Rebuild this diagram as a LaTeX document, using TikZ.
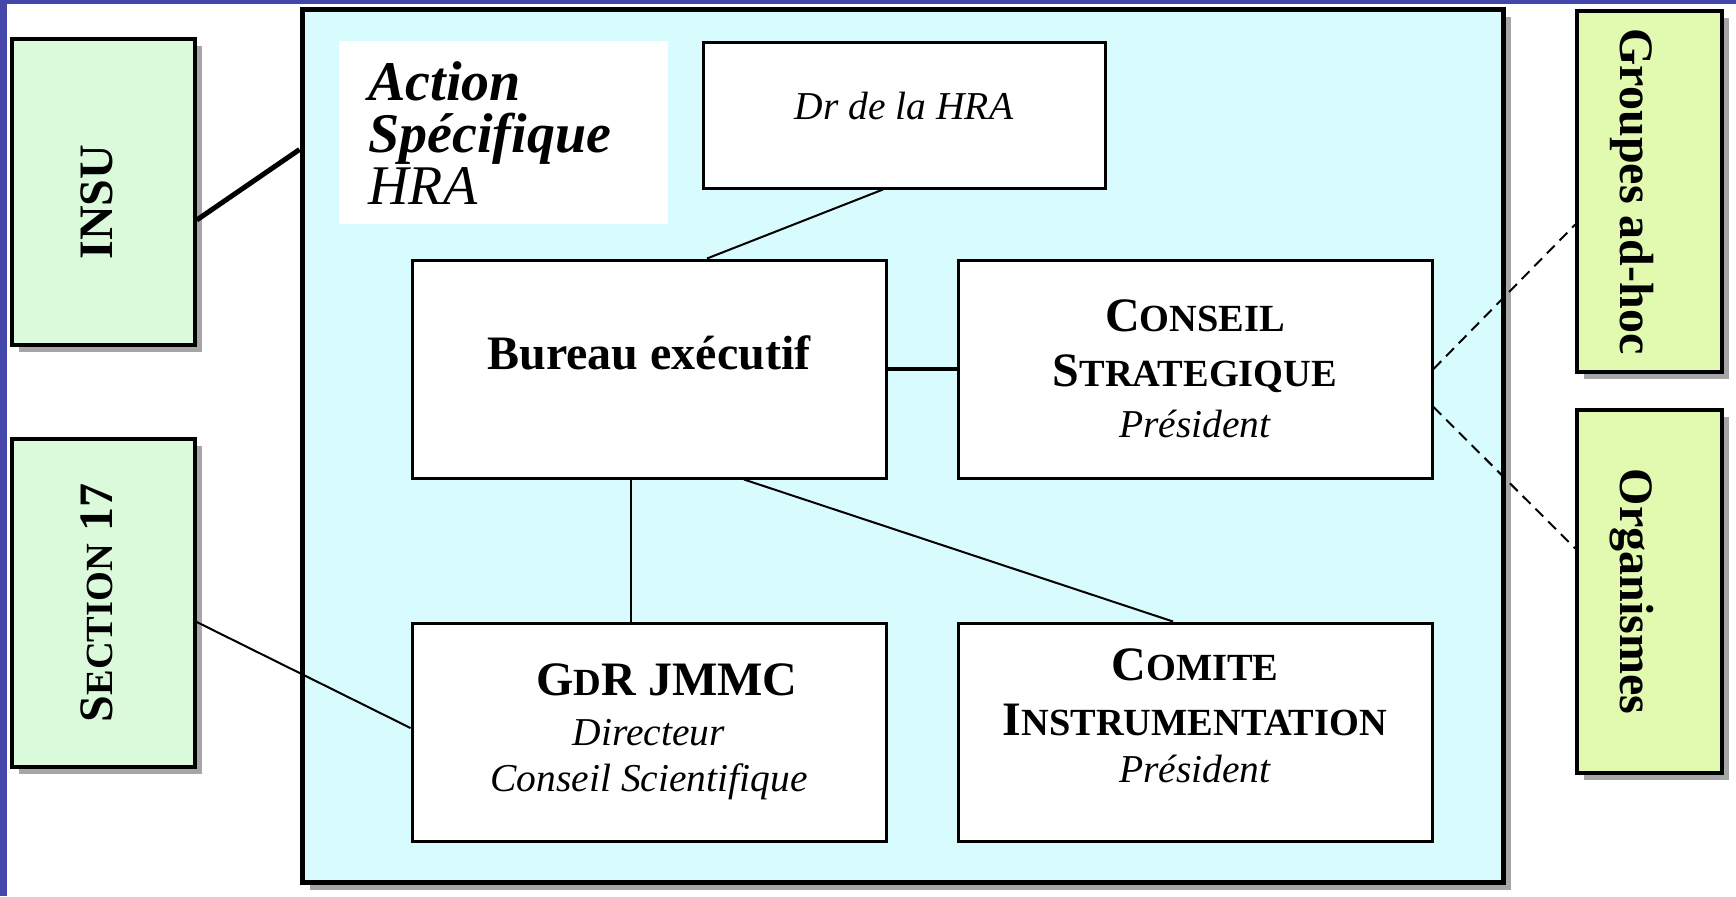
\documentclass[tikz,border=0pt]{standalone}
\usepackage{fontspec}
\setmainfont{Liberation Serif}
\usepackage{xcolor}
\usepackage{tikz}
\usetikzlibrary{positioning,calc,shadows}

\definecolor{edgeblue}{RGB}{68,70,170}
\definecolor{panelcyan}{RGB}{216,251,253}
\definecolor{sidegreen}{RGB}{218,250,219}
\definecolor{sidelime}{RGB}{226,249,176}
\definecolor{shadegray}{RGB}{166,166,166}

\newcommand{\ttlfont}{\fontsize{24pt}{27.5pt}\selectfont\bfseries}
\newcommand{\smc}[1]{{\fontsize{19.2pt}{27.5pt}\selectfont #1}}
\newcommand{\subfont}{\fontsize{19.75pt}{23pt}\selectfont\mdseries\itshape}

\begin{document}
\begin{tikzpicture}[x=0.5pt, y=-0.5pt, node distance=71pt and 34.5pt,
    framebox/.style={draw, line width=2.5pt, fill=panelcyan, minimum width=600.5pt, minimum height=436.5pt,
        general shadow={fill=shadegray, shadow xshift=4pt, shadow yshift=-4pt}},
    sidebox/.style={draw, line width=1.75pt, fill=#1, font=\ttlfont,
        general shadow={fill=shadegray, shadow xshift=3.5pt, shadow yshift=-3.5pt}},
    unitbox/.style={draw, line width=1.5pt, fill=white, align=center, font=\ttlfont,
        minimum width=237pt, minimum height=109pt},
    heading/.style={fill=white, align=left, font=\fontsize{28pt}{26pt}\selectfont\itshape,
        text width=135.5pt, inner xsep=14.5pt, minimum height=91.5pt},
    link/.style={line width=1pt},
    adhoc/.style={line width=1pt, dash pattern=on 5.5pt off 3.5pt}]

    \useasboundingbox (0,0) rectangle (1736,896);
    \fill[edgeblue] (0,0) rectangle (7,896);
    \fill[edgeblue] (0,0) rectangle (1736,4);

    % the Action Specifique frame
    \node[framebox] (as) at (902.5,445.5) {};
    \node[heading, anchor=north west] (head) at (339,41) {\textbf{Action}\\\textbf{Spécifique}\\HRA};

    % outside partners
    \node[sidebox=sidegreen, rotate=90, minimum width=153pt, minimum height=91.5pt,
        text height=8.5pt, text depth=0pt] (insu) at (103.5,192) {INSU\hspace*{10pt}};
    \node[sidebox=sidegreen, rotate=90, minimum width=164pt, minimum height=91.5pt,
        text height=8.5pt, text depth=0pt] (sec) at (103.5,603) {S\smc{ECTION} 17};
    \node[sidebox=sidelime, rotate=-90, minimum width=180.5pt, minimum height=72.5pt,
        text height=29.5pt, text depth=0pt] (groupes) at (1649.5,191.5) {Groupes ad-hoc};
    \node[sidebox=sidelime, rotate=-90, minimum width=181.5pt, minimum height=72.5pt,
        text height=29.5pt, text depth=0pt] (orga) at (1649.5,591.5) {Organismes};

    % inner structure
    \node[unitbox, font=\subfont, minimum width=201pt, minimum height=73pt, text depth=9.6pt] (dr) at (904,115) {Dr de la HRA};
    \node[unitbox, text depth=16pt] (bureau) at (649,369) {Bureau exécutif};
    \node[unitbox, right=of bureau] (conseil) {C\smc{ONSEIL}\\S\smc{TRATEGIQUE}\\[-2pt]\subfont Président};
    \node[unitbox, below=of bureau] (gdr) {\hspace*{18pt}G\smc{D}R JMMC\\[-2.5pt]\subfont Directeur\\[-4.25pt]\subfont Conseil Scientifique};
    \node[unitbox, right=of gdr, text depth=16pt] (comite) {C\smc{OMITE}\\I\smc{NSTRUMENTATION}\\[-4pt]\subfont Président};

    \draw[line width=2.5pt] ($(insu.south)+(0,28)$) -- ($(as.north west)+(0,143)$);
    \draw[link] ($(dr.south)+(-21,0)$) -- ($(bureau.north)+(58,0)$);
    \draw[line width=1.75pt] (bureau.east) -- (conseil.west);
    \draw[link] ($(bureau.south)+(-18,0)$) -- ($(gdr.north)+(-18,0)$);
    \draw[link] ($(bureau.south)+(95,0)$) -- ($(comite.north)+(-22,0)$);
    \draw[link] ($(sec.south)+(0,19)$) -- ($(gdr.west)+(0,-4)$);
    \draw[adhoc] (conseil.east) -- ($(groupes.south)+(0,33)$);
    \draw[adhoc] ($(conseil.east)+(0,38)$) -- ($(orga.south)+(0,-43)$);

\end{tikzpicture}
\end{document}
